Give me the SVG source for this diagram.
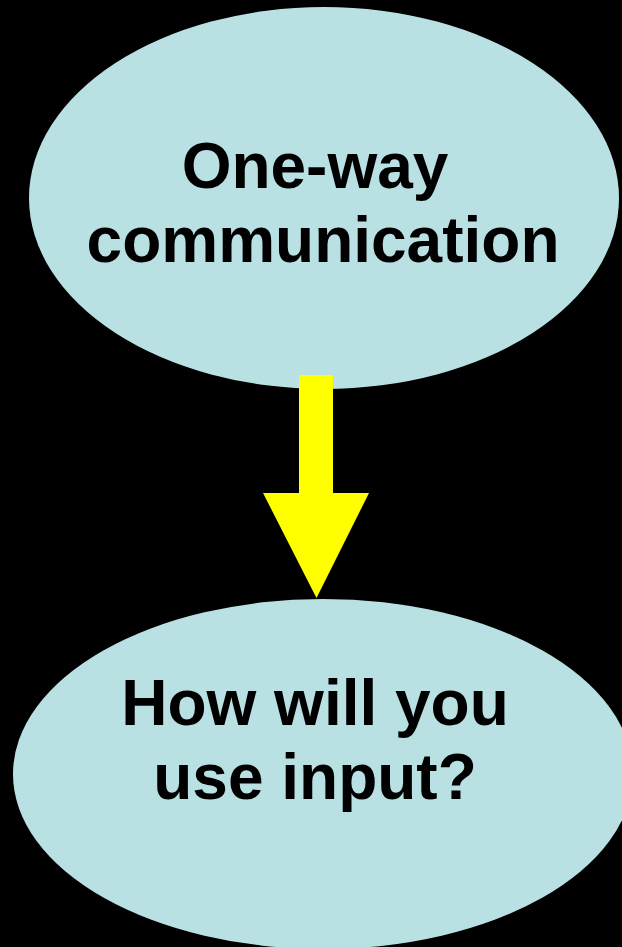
<svg xmlns="http://www.w3.org/2000/svg" width="622" height="947" viewBox="0 0 622 947">
  <style>
    .node { fill: #B9E0E3; }
    .label { font-family: "Liberation Sans", Arial, sans-serif; font-weight: bold; font-size: 64px; fill: #000000; text-anchor: middle; }
    .flow { fill: #FFFF00; }
  </style>
  <rect x="0" y="0" width="622" height="947" fill="#000000"/>
  <g id="node-one-way">
    <ellipse class="node" cx="324" cy="198" rx="295" ry="191"/>
    <text class="label" x="315" y="188">One-way</text>
    <text class="label" x="323" y="262">communication</text>
  </g>
  <g id="node-use-input">
    <ellipse class="node" cx="323" cy="774" rx="310" ry="175"/>
    <text class="label" x="315" y="725">How will you</text>
    <text class="label" x="315" y="799">use input?</text>
  </g>
  <g id="connectors">
    <polygon class="flow" points="299,375 333,375 333,493 369,493 316.5,598 263,493 299,493"/>
  </g>
</svg>
